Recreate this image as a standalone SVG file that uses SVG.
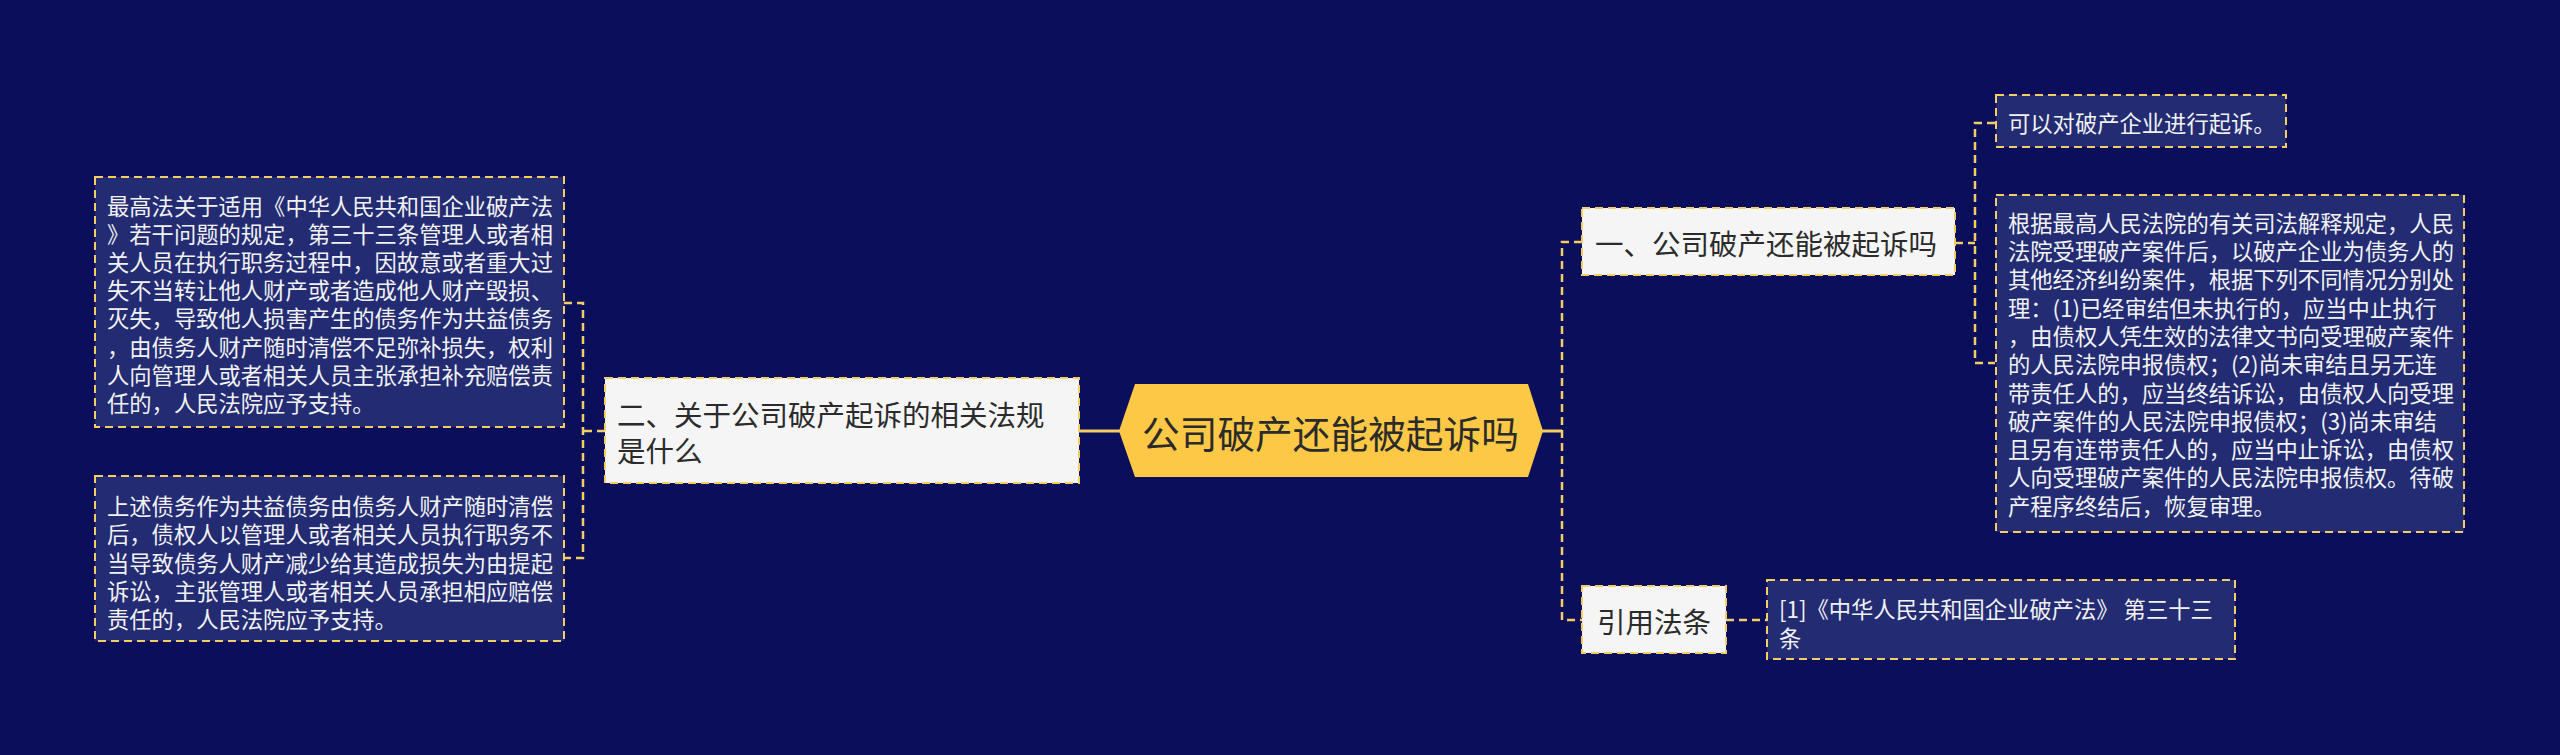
<svg xmlns="http://www.w3.org/2000/svg" width="2560" height="755" viewBox="0 0 2560 755">
<style>
.leaf{fill:#232b73;stroke:#f4cd64;stroke-width:2;stroke-dasharray:8 5}
.mid{fill:#f5f5f5;stroke:#f4cd64;stroke-width:2;stroke-dasharray:8 5}
.lt{font-family:"Noto Sans CJK SC","Noto Sans",sans-serif;font-size:22.3px;fill:#f2f2f2;dominant-baseline:central}
.mt{font-family:"Noto Sans CJK SC","Noto Sans",sans-serif;font-size:28.5px;fill:#2b2b2b;dominant-baseline:central}
.ct{font-family:"Noto Sans CJK SC","Noto Sans",sans-serif;font-size:37.7px;fill:#2b2b2b;dominant-baseline:central}
.dl{fill:none;stroke:#f4cd64;stroke-width:2.5;stroke-dasharray:8 5}
.sl{fill:none;stroke:#f4cd64;stroke-width:3}
</style>
<rect width="2560" height="755" fill="#0a0e5b"/>
<g id="connectors">
<line class="sl" x1="1079" y1="431" x2="1120" y2="431"/>
<line class="sl" x1="1542" y1="431" x2="1562" y2="431"/>
<path class="dl" d="M605 431 H583 M564 303 H583 V558 H564"/>
<path class="dl" d="M1582 242 H1562 V620 H1582"/>
<path class="dl" d="M1955 243 H1975 M1995 123 H1975 V363 H1995"/>
<path class="dl" d="M1726 620 H1767"/>
</g>
<g id="center">
<polygon points="1119,431 1135,384 1528,384 1543,431 1528,477 1135,477" fill="#fcc846"/>
<text class="ct" x="1142" y="431">公司破产还能被起诉吗</text>
</g>
<g id="node-left">
<rect class="mid" x="605" y="378" width="474" height="105"/>
<text class="mt" x="617" y="413">二、关于公司破产起诉的相关法规</text>
<text class="mt" x="617" y="449">是什么</text>
</g>
<g id="leaf-left-1">
<rect class="leaf" x="95" y="177" width="469" height="250"/>
<text class="lt" x="107" y="205">最高法关于适用《中华人民共和国企业破产法</text>
<text class="lt" x="107" y="233.1">》若干问题的规定，第三十三条管理人或者相</text>
<text class="lt" x="107" y="261.2">关人员在执行职务过程中，因故意或者重大过</text>
<text class="lt" x="107" y="289.3">失不当转让他人财产或者造成他人财产毁损、</text>
<text class="lt" x="107" y="317.4">灭失，导致他人损害产生的债务作为共益债务</text>
<text class="lt" x="107" y="345.5">，由债务人财产随时清偿不足弥补损失，权利</text>
<text class="lt" x="107" y="373.6">人向管理人或者相关人员主张承担补充赔偿责</text>
<text class="lt" x="107" y="401.7">任的，人民法院应予支持。</text>
</g>
<g id="leaf-left-2">
<rect class="leaf" x="95" y="476" width="469" height="165"/>
<text class="lt" x="107" y="505">上述债务作为共益债务由债务人财产随时清偿</text>
<text class="lt" x="107" y="533.3">后，债权人以管理人或者相关人员执行职务不</text>
<text class="lt" x="107" y="561.6">当导致债务人财产减少给其造成损失为由提起</text>
<text class="lt" x="107" y="589.9">诉讼，主张管理人或者相关人员承担相应赔偿</text>
<text class="lt" x="107" y="618.2">责任的，人民法院应予支持。</text>
</g>
<g id="node-right-1">
<rect class="mid" x="1582" y="208" width="373" height="67"/>
<text class="mt" x="1595" y="242">一、公司破产还能被起诉吗</text>
</g>
<g id="leaf-right-1">
<rect class="leaf" x="1996" y="95" width="290" height="52"/>
<text class="lt" x="2008" y="122">可以对破产企业进行起诉。</text>
</g>
<g id="leaf-right-2">
<rect class="leaf" x="1996" y="195" width="468" height="337"/>
<text class="lt" x="2008" y="221.7">根据最高人民法院的有关司法解释规定，人民</text>
<text class="lt" x="2008" y="250">法院受理破产案件后，以破产企业为债务人的</text>
<text class="lt" x="2008" y="278.3">其他经济纠纷案件，根据下列不同情况分别处</text>
<text class="lt" x="2008" y="306.6">理：(1)已经审结但未执行的，应当中止执行</text>
<text class="lt" x="2008" y="334.9">，由债权人凭生效的法律文书向受理破产案件</text>
<text class="lt" x="2008" y="363.2">的人民法院申报债权；(2)尚未审结且另无连</text>
<text class="lt" x="2008" y="391.5">带责任人的，应当终结诉讼，由债权人向受理</text>
<text class="lt" x="2008" y="419.8">破产案件的人民法院申报债权；(3)尚未审结</text>
<text class="lt" x="2008" y="448.1">且另有连带责任人的，应当中止诉讼，由债权</text>
<text class="lt" x="2008" y="476.4">人向受理破产案件的人民法院申报债权。待破</text>
<text class="lt" x="2008" y="504.7">产程序终结后，恢复审理。</text>
</g>
<g id="node-right-2">
<rect class="mid" x="1582" y="586" width="144" height="67"/>
<text class="mt" x="1597" y="620">引用法条</text>
</g>
<g id="leaf-right-3">
<rect class="leaf" x="1767" y="580" width="468" height="79"/>
<text class="lt" x="1779" y="608">[1]《中华人民共和国企业破产法》 第三十三</text>
<text class="lt" x="1779" y="637">条</text>
</g>
</svg>
